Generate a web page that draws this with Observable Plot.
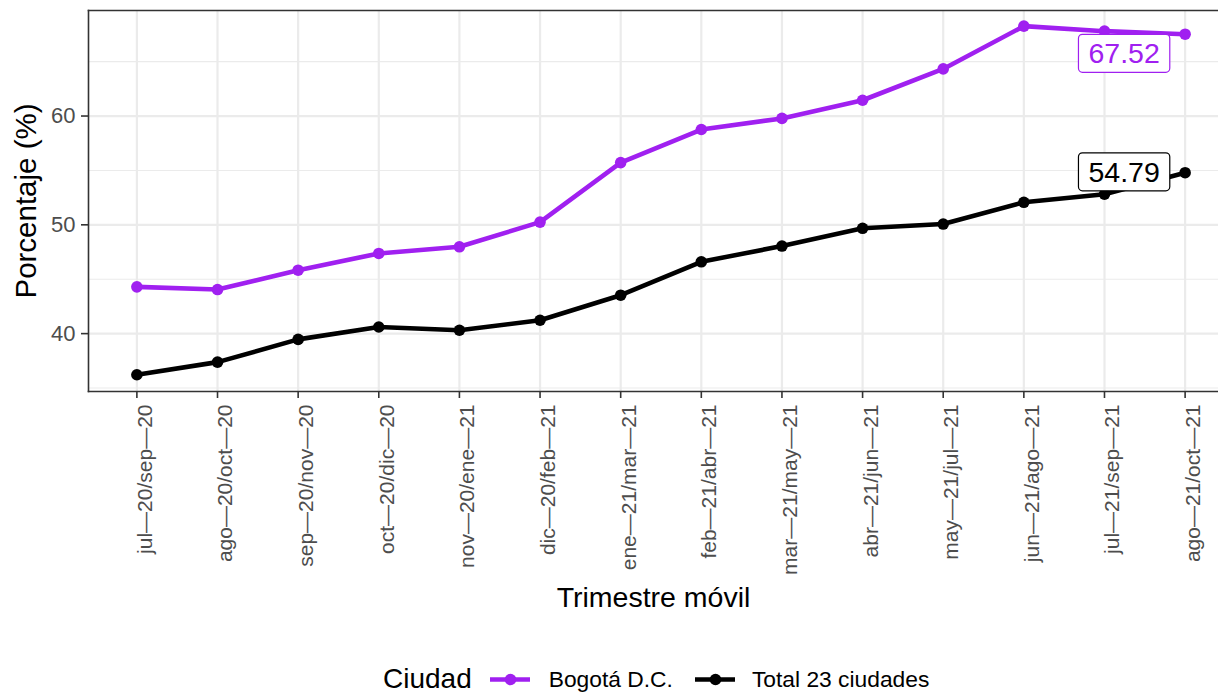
<!DOCTYPE html>
<html>
<head>
<meta charset="utf-8">
<script src="https://cdn.jsdelivr.net/npm/d3@7"></script>
<script src="https://cdn.jsdelivr.net/npm/@observablehq/plot@0.6"></script>
<style>
  html, body { margin: 0; padding: 0; background: #fff; overflow: hidden; }
  #wrap { position: relative; width: 1218px; height: 695px; font-family: "Liberation Sans", Arial, Helvetica, sans-serif; }
  #legend { position: absolute; left: 383px; top: 666px; height: 26px; display: flex; align-items: center; white-space: nowrap; line-height: 0.9; }
  #legend .title { font-size: 28px; color: #000; margin-right: 18px; }
  #legend .lab { font-size: 22.8px; color: #000; }
  #legend svg { display: block; }
</style>
</head>
<body>
<div id="wrap"></div>
<script>
const periods = [
  "jul—20/sep—20", "ago—20/oct—20", "sep—20/nov—20", "oct—20/dic—20",
  "nov—20/ene—21", "dic—20/feb—21", "ene—21/mar—21", "feb—21/abr—21",
  "mar—21/may—21", "abr—21/jun—21", "may—21/jul—21", "jun—21/ago—21",
  "jul—21/sep—21", "ago—21/oct—21"
];
const cities = ["Bogotá D.C.", "Total 23 ciudades"];
const cityColors = ["#A020F0", "#000000"];
const bogota = [44.30, 44.05, 45.83, 47.37, 47.98, 50.25, 55.72, 58.76, 59.78, 61.45, 64.33, 68.26, 67.80, 67.52];
const total  = [36.22, 37.38, 39.47, 40.61, 40.31, 41.23, 43.53, 46.60, 48.05, 49.68, 50.07, 52.07, 52.81, 54.79];
const yMajor = [40, 50, 60];
const yMinor = [35, 45, 55, 65];
const yDomain = [34.68, 69.7];
const xTitle = "Trimestre móvil";
const yTitle = "Porcentaje (%)";
const legendTitle = "Ciudad";

const rows = [
  ...periods.map((p, i) => ({period: p, value: bogota[i], city: cities[0]})),
  ...periods.map((p, i) => ({period: p, value: total[i], city: cities[1]}))
];
const last = periods.length - 1;
const labBog = [{period: periods[last], value: bogota[last], city: cities[0]}];
const labTot = [{period: periods[last], value: total[last], city: cities[1]}];
const labelTexts = [bogota[last].toFixed(2), total[last].toFixed(2)];

const W = 1218, H = 645;
const ML = 88, MT = 10, MB = 254;
const chart = Plot.plot({
  width: W,
  height: H,
  marginLeft: ML,
  marginRight: 0,
  marginTop: MT,
  marginBottom: MB,
  style: {fontFamily: '"Liberation Sans", Arial, Helvetica, sans-serif', background: "#fff", overflow: "hidden"},
  // the panel continues past the right edge of the picture (cropped like the reference)
  x: {type: "point", domain: periods, range: [ML, W + 15], padding: 0.6, align: 0.5, round: false},
  y: {domain: yDomain},
  color: {domain: cities, range: cityColors},
  marks: [
    Plot.ruleY(yMinor, {stroke: "#EBEBEB", strokeWidth: 1.1}),
    Plot.ruleY(yMajor, {stroke: "#EBEBEB", strokeWidth: 2.2}),
    Plot.ruleX(periods, {stroke: "#EBEBEB", strokeWidth: 2.2}),
    Plot.line(rows, {x: "period", y: "value", z: "city", stroke: "city", strokeWidth: 4.6, strokeLinejoin: "round", strokeLinecap: "butt"}),
    Plot.dot(rows, {x: "period", y: "value", fill: "city", r: 5.8, stroke: "none"}),
    Plot.text(labBog, {x: "period", y: "value", text: d => d.value.toFixed(2), fill: "city", fontSize: 28.5, dx: -61, dy: 20, textAnchor: "middle", lineAnchor: "middle"}),
    Plot.text(labTot, {x: "period", y: "value", text: d => d.value.toFixed(2), fill: "city", fontSize: 28.5, dx: -61, dy: 0, textAnchor: "middle", lineAnchor: "middle"}),
    Plot.frame({anchor: "left", stroke: "#333333", strokeWidth: 1.6}),
    Plot.frame({anchor: "top", stroke: "#333333", strokeWidth: 1.6}),
    Plot.frame({anchor: "bottom", stroke: "#333333", strokeWidth: 1.6}),
    Plot.axisY({ticks: yMajor, tickSize: 7, tickPadding: 6, fontSize: 22, label: null, stroke: "#333333", fill: "#4D4D4D", strokeWidth: 1.6}),
    Plot.axisX({tickSize: 7, tickFormat: () => "", label: null, stroke: "#333333", strokeWidth: 1.6}),
    Plot.text(periods, {x: d => d, frameAnchor: "bottom", rotate: -90, textAnchor: "end", lineAnchor: "top", dy: 13, fontSize: 21, fill: "#4D4D4D"}),
    Plot.text([xTitle], {frameAnchor: "bottom", text: d => d, dy: 206, fontSize: 28.5, textAnchor: "middle", lineAnchor: "middle", fill: "#000"}),
    Plot.text([yTitle], {frameAnchor: "left", text: d => d, dx: -62, rotate: -90, fontSize: 29.5, textAnchor: "middle", lineAnchor: "middle", fill: "#000"})
  ]
});

const wrap = document.getElementById("wrap");
wrap.append(chart);

// boxes behind end labels (ggrepel-style label boxes)
chart.querySelectorAll("text").forEach(t => {
  if (!labelTexts.includes(t.textContent)) return;
  const b = t.getBBox();
  const padX = 10, padY = 4;
  const r = document.createElementNS("http://www.w3.org/2000/svg", "rect");
  r.setAttribute("x", b.x - padX);
  r.setAttribute("y", b.y - padY + 1);
  r.setAttribute("width", b.width + 2 * padX);
  r.setAttribute("height", b.height + 2 * padY - 2);
  r.setAttribute("rx", 4);
  r.setAttribute("fill", "#fff");
  r.setAttribute("stroke", t.getAttribute("fill") || getComputedStyle(t).fill);
  r.setAttribute("stroke-width", 1.2);
  const tr = t.getAttribute("transform");
  if (tr) r.setAttribute("transform", tr);
  t.parentNode.insertBefore(r, t);
});

// legend
const legend = document.createElement("div");
legend.id = "legend";
const ttl = document.createElement("span");
ttl.className = "title";
ttl.textContent = legendTitle;
legend.append(ttl);
cities.forEach((c, i) => {
  const key = Plot.plot({
    width: 40, height: 24, margin: 0,
    x: {domain: [0, 1], axis: null}, y: {domain: [0, 1], axis: null},
    style: {background: "transparent", overflow: "visible"},
    marks: [
      Plot.ruleY([0.5], {x1: 0, x2: 1, stroke: cityColors[i], strokeWidth: 4.6}),
      Plot.dot([[0.5, 0.5]], {fill: cityColors[i], r: 5.8})
    ]
  });
  key.style.marginRight = i === 0 ? "19px" : "17px";
  legend.append(key);
  const lab = document.createElement("span");
  lab.className = "lab";
  lab.textContent = c;
  if (i === 0) lab.style.marginRight = "22px";
  legend.append(lab);
});
wrap.append(legend);
</script>
</body>
</html>
